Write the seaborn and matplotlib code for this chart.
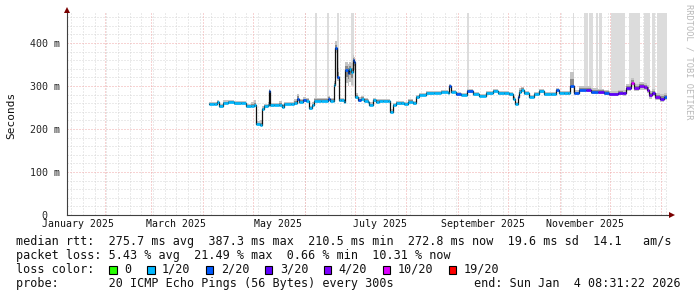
import numpy as np
import pandas as pd
import matplotlib
matplotlib.use("Agg")
import matplotlib.pyplot as plt
import matplotlib.dates as mdates
from matplotlib.patches import Rectangle
import seaborn as sns

# ---------------- data ----------------
# days since 2025-01-01
day = [93.4, 96.5, 98.3, 99.5, 101.9, 104.9, 108.5, 112.7, 115.7, 118.7,
       120.5, 121.7, 124.1, 125.3, 126.5, 128.9, 129.5, 130.1, 132.5, 135.5,
       137.3, 138.5, 142.7, 144.5, 146.3, 147.5, 149.9, 151.7, 153.5, 155.3,
       156.5, 160.8, 165.0, 166.2, 168.0, 168.6, 169.2, 170.4, 171.6, 172.8,
       174.6, 175.2, 177.0, 177.6, 178.8, 180.0, 180.6, 181.2, 183.0, 184.8,
       186.6, 189.0, 189.6, 192.0, 193.8, 195.6, 198.0, 201.0, 202.2, 204.0,
       205.8, 208.8, 210.6, 213.0, 216.0, 217.8, 219.6, 223.9, 228.7, 232.9,
       237.1, 237.7, 238.9, 241.9, 244.9, 248.5, 252.1, 255.7, 259.9, 264.1,
       267.1, 270.7, 273.7, 276.1, 277.3, 279.1, 279.7, 280.9, 282.7, 285.7,
       288.7, 291.8, 294.8, 299.0, 302.0, 303.8, 306.8, 309.2, 310.4, 312.8,
       315.8, 320.0, 323.0, 327.2, 330.8, 333.8, 339.2, 342.2, 344.0, 346.5,
       348.3, 351.3, 354.3, 356.1, 357.3, 359.1, 360.9, 363.9, 366.3, 368.1]
median_ms = [258, 258, 263, 253, 261, 263, 260, 261, 253, 254,
             255, 212, 210, 247, 253, 256, 289, 255, 256, 257,
             252, 258, 258, 260, 271, 263, 267, 266, 248, 256,
             266, 266, 270, 266, 266, 302, 388, 322, 267, 267,
             264, 337, 331, 340, 333, 360, 357, 275, 267, 271,
             266, 264, 256, 267, 264, 266, 266, 266, 240, 256,
             260, 260, 258, 264, 260, 274, 279, 283, 284, 286,
             284, 300, 287, 281, 279, 288, 281, 277, 283, 289,
             283, 283, 281, 271, 258, 274, 287, 292, 283, 275,
             281, 288, 281, 281, 291, 284, 283, 283, 300, 283,
             291, 292, 287, 286, 284, 281, 284, 283, 295, 308,
             295, 300, 298, 292, 279, 284, 275, 271, 275, 274]
loss = [1, 1, 1, 1, 1, 1, 1, 1, 1, 1,
        1, 1, 1, 1, 1, 1, 2, 1, 1, 1,
        1, 1, 1, 1, 2, 1, 2, 1, 1, 1,
        1, 1, 2, 1, 1, 1, 2, 2, 1, 1,
        1, 2, 2, 1, 1, 2, 2, 1, 2, 1,
        1, 1, 1, 1, 1, 1, 1, 1, 1, 1,
        1, 1, 1, 1, 1, 1, 1, 1, 1, 1,
        1, 2, 1, 2, 1, 2, 1, 1, 1, 1,
        1, 1, 1, 1, 1, 2, 1, 1, 1, 1,
        1, 1, 1, 1, 2, 1, 1, 1, 2, 2,
        2, 3, 2, 3, 2, 3, 3, 3, 3, 10,
        4, 4, 4, 4, 4, 3, 4, 3, 2, 4]
smoke_dn = [3, 3, 3, 3, 3, 3, 3, 3, 3, 3,
            3, 3, 3, 3, 3, 3, 3, 3, 3, 3,
            3, 3, 3, 3, 3, 3, 3, 3, 3, 3,
            3, 3, 3, 3, 3, 4, 10, 10, 3, 3,
            3, 30, 30, 30, 30, 20, 20, 5, 3, 3,
            3, 3, 3, 3, 3, 3, 3, 3, 3, 3,
            3, 3, 3, 3, 3, 3, 3, 3, 3, 3,
            3, 3, 3, 3, 3, 3, 3, 3, 3, 3,
            3, 3, 3, 3, 3, 3, 3, 3, 3, 3,
            3, 3, 3, 3, 3, 3, 3, 3, 4, 4,
            5, 5, 5, 5, 5, 5, 5, 5, 6, 6,
            6, 8, 8, 8, 8, 8, 8, 8, 8, 8]
smoke_up = [5, 5, 5, 5, 6, 5, 5, 5, 6, 8,
            12, 6, 10, 6, 5, 6, 5, 5, 5, 8,
            6, 6, 6, 10, 10, 8, 8, 6, 6, 6,
            6, 6, 8, 6, 6, 10, 16, 20, 6, 6,
            6, 20, 20, 15, 20, 12, 10, 10, 8, 6,
            6, 6, 6, 6, 5, 5, 5, 5, 6, 5,
            5, 5, 5, 5, 5, 5, 5, 5, 5, 5,
            5, 5, 5, 5, 5, 6, 5, 5, 5, 5,
            5, 5, 5, 5, 5, 5, 8, 5, 5, 5,
            5, 5, 5, 5, 5, 5, 5, 6, 33, 8,
            8, 8, 8, 8, 8, 8, 8, 8, 10, 10,
            10, 10, 10, 10, 10, 10, 10, 10, 10, 10]

# periods where single pings went beyond the top of the chart (days since 2025-01-01)
outlier_start = [157.4, 164.6, 170.6, 178.9, 248.6, 311.7, 318.7, 321.8,
                 326.0, 327.8, 335.0, 345.8, 354.8, 359.6, 362.6]
outlier_end = [158.2, 165.4, 171.3, 180.5, 249.3, 312.5, 320.7, 323.8,
               327.2, 329.6, 343.4, 352.4, 358.4, 360.9, 368.3]
outlier_base = [266, 268, 330, 300, 285, 285, 290, 290,
                288, 288, 285, 300, 295, 285, 280]

loss_codes = [0, 1, 2, 3, 4, 10, 19]
loss_labels = ["0", "1/20", "2/20", "3/20", "4/20", "10/20", "19/20"]
loss_colors = ["#26ff00", "#00b8ff", "#0059ff", "#5e00ff", "#7e00ff", "#dd00ff", "#ff0000"]

y_ticks = [0, 100, 200, 300, 400]
y_tick_labels = ["  0  ", "100 m", "200 m", "300 m", "400 m"]
month_labels = ["January 2025", "March 2025", "May 2025", "July 2025",
                "September 2025", "November 2025"]
month_label_dates = ["2025-01-16", "2025-03-16", "2025-05-16", "2025-07-16",
                     "2025-09-16", "2025-11-16"]

line_rtt = ("median rtt:  275.7 ms avg  387.3 ms max  210.5 ms min  "
            "272.8 ms now  19.6 ms sd  14.1   am/s")
line_loss = "packet loss: 5.43 % avg  21.49 % max  0.66 % min  10.31 % now"
line_probe = "probe:       20 ICMP Echo Pings (56 Bytes) every 300s"
line_end = "end: Sun Jan  4 08:31:22 2026"

# ---------------- figure ----------------
sns.set_theme(style="white")
plt.rcParams["font.family"] = ["DejaVu Sans Mono", "DejaVu Sans"]

W, H = 697, 297
fig = plt.figure(figsize=(W / 100, H / 100), dpi=100)
fig.patch.set_facecolor("white")
ax = fig.add_axes([67 / W, (H - 215) / H, 600 / W, (215 - 13) / H])
ax.set_facecolor("white")

t0 = pd.Timestamp("2025-01-01")
end_time = pd.Timestamp("2026-01-04 08:31:22")
start_time = end_time - pd.Timedelta(days=360)
x_start = mdates.date2num(start_time)
x_end = mdates.date2num(end_time)

df = pd.DataFrame({"day": day, "median": median_ms, "loss": loss,
                   "dn": smoke_dn, "up": smoke_up})
df["x"] = mdates.date2num(t0 + pd.to_timedelta(df["day"], unit="D"))
df["x_next"] = df["x"].shift(-1).fillna(x_end)

ymax = 470
ax.set_xlim(x_start, x_end)
ax.set_ylim(0, ymax)

# grid
minor_c = "#d6d6d6"
major_c = "#f0a8a8"
dots = (0, (1, 2))
for s in pd.date_range(start_time.normalize(), end_time, freq="W-SUN"):
    ax.axvline(mdates.date2num(s), color=minor_c, ls=dots, lw=0.72, zorder=0.5)
for m in pd.date_range("2025-01-01", "2026-02-01", freq="MS"):
    ax.axvline(mdates.date2num(m), color=major_c, ls=dots, lw=0.72, zorder=0.6)
for v in range(20, ymax, 20):
    ax.axhline(v, color=major_c if v % 100 == 0 else minor_c, ls=dots, lw=0.72,
               zorder=0.6 if v % 100 == 0 else 0.5)

# outlier bars (pings beyond the top)
for s, e, b in zip(outlier_start, outlier_end, outlier_base):
    xs = mdates.date2num(t0 + pd.Timedelta(days=s))
    xe = mdates.date2num(t0 + pd.Timedelta(days=e))
    ax.fill_between([xs, xe], [b, b], [ymax + 50, ymax + 50], color="#dcdcdc",
                    lw=0, zorder=1)

# smoke
xs_step = np.append(df["x"].values, x_end)
med = df["median"].values.astype(float)
lo = med - df["dn"].values
hi = med + df["up"].values
ax.fill_between(xs_step, np.append(lo, lo[-1]), np.append(hi, hi[-1]),
                step="post", color="#c4c4c4", lw=0, zorder=2)
ilo = med - df["dn"].values * 0.5
ihi = med + df["up"].values * 0.5
ax.fill_between(xs_step, np.append(ilo, ilo[-1]), np.append(ihi, ihi[-1]),
                step="post", color="#8a8a8a", lw=0, zorder=3)

# median line
line_df = pd.DataFrame({"x": xs_step, "median": np.append(med, med[-1])})
sns.lineplot(data=line_df, x="x", y="median", color="#111111", lw=0.9,
             drawstyle="steps-post", estimator=None, sort=False, ax=ax, zorder=4)

# loss coloured median band
cmap = dict(zip(loss_codes, loss_colors))
ax.hlines(df["median"], df["x"], df["x_next"],
          colors=[cmap[l] for l in df["loss"]], lw=1.9, zorder=5)

# axes styling
for sp in ["top", "right"]:
    ax.spines[sp].set_visible(False)
for sp in ["left", "bottom"]:
    ax.spines[sp].set_color("#404040")
    ax.spines[sp].set_linewidth(0.8)
    ax.spines[sp].set_zorder(6)

ax.set_xticks([mdates.date2num(m) for m in pd.date_range("2025-02-01", "2026-01-01", freq="MS")])
ax.set_xticks([mdates.date2num(s) for s in pd.date_range(start_time.normalize(), end_time, freq="W-SUN")],
              minor=True)
ax.tick_params(axis="x", which="both", labelbottom=False, direction="inout",
               color="#404040", width=0.7)
ax.tick_params(axis="x", which="major", length=4)
ax.tick_params(axis="x", which="minor", length=2.5)

ax.set_yticks(y_ticks)
ax.set_yticklabels(y_tick_labels)
ax.set_yticks(list(range(20, ymax, 20)), minor=True)
ax.tick_params(axis="y", which="major", length=4, direction="inout", width=0.7,
               color="#404040", labelsize=7.2, pad=3)
ax.tick_params(axis="y", which="minor", length=2.5, direction="inout", width=0.7,
               color="#404040")
for t in ax.get_yticklabels():
    t.set_fontfamily("DejaVu Sans Mono")
ax.set_xlabel("")
ax.set_ylabel("")
ax.grid(False)

for lbl, d in zip(month_labels, month_label_dates):
    ax.annotate(lbl, xy=(mdates.date2num(pd.Timestamp(d)), 0),
                xycoords=("data", "axes fraction"), xytext=(0, -3.2),
                textcoords="offset points", ha="center", va="top", fontsize=7.1,
                color="#111111", annotation_clip=False)

# arrows at the axis ends
dark_red = "#7a0000"
ax.plot([1.0, 1.0 + 3 / 600], [0, 0], transform=ax.transAxes, color="#404040",
        lw=0.8, clip_on=False, zorder=6)
ax.plot([1.0 + 5 / 600], [0], marker=">", ms=4.5, color=dark_red, mew=0,
        transform=ax.transAxes, clip_on=False, zorder=7)
ax.plot([0], [1.0 + 3 / 202], marker="^", ms=4.5, color=dark_red, mew=0,
        transform=ax.transAxes, clip_on=False, zorder=7)

# axis title and watermark
fig.text(11 / W, 1 - 115 / H, "Seconds", rotation=90, ha="center", va="center",
         fontsize=8, color="#111111")
fig.text(689 / W, 1 - 4 / H, "RRDTOOL / TOBI OETIKER", rotation=270, ha="center",
         va="top", fontsize=6.2, color="#b8b8b8")

# legend lines
fs = 8.5
cw = 7.1
x0 = 16.4
rows = [241.5, 255.5, 269.5, 283.5]
fig.text(x0 / W, 1 - rows[0] / H, line_rtt, ha="left", va="center", fontsize=fs, color="#111111")
fig.text(x0 / W, 1 - rows[1] / H, line_loss, ha="left", va="center", fontsize=fs, color="#111111")
fig.text(x0 / W, 1 - rows[2] / H, "loss color:", ha="left", va="center", fontsize=fs, color="#111111")
col = 13.1
for lbl, c in zip(loss_labels, loss_colors):
    sx = x0 + col * cw
    fig.add_artist(Rectangle((sx / W, 1 - (rows[2] + 4.5) / H), 7.5 / W, 8.5 / H,
                             transform=fig.transFigure, facecolor=c, edgecolor="black",
                             lw=0.8))
    fig.text((x0 + (col + 2.1) * cw) / W, 1 - rows[2] / H, lbl, ha="left", va="center",
             fontsize=fs, color="#111111")
    col = col + 2.1 + len(lbl) + 2.2
fig.text(x0 / W, 1 - rows[3] / H, line_probe, ha="left", va="center", fontsize=fs, color="#111111")
fig.text(681 / W, 1 - rows[3] / H, line_end, ha="right", va="center", fontsize=fs, color="#111111")

fig.savefig("out.png", dpi=100, facecolor="white")
